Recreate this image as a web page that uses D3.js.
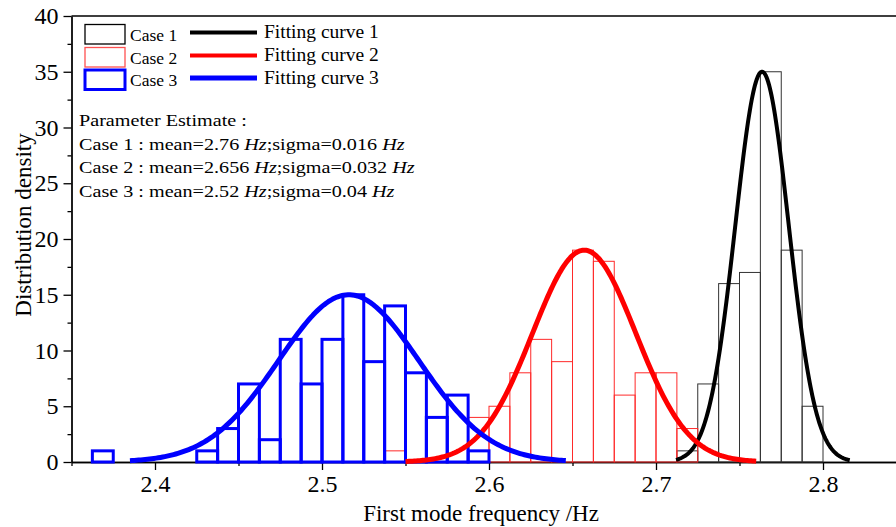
<!DOCTYPE html>
<html lang="en">
<head>
<meta charset="UTF-8">
<title>First mode frequency distribution</title>
<style>
  body { margin: 0; background: #fff; }
  svg { display: block; }
  .axis path, .axis line { stroke: #000; stroke-width: 1.3; }
</style>
</head>
<body>
<div class="g-chart"></div>
<script src="https://d3js.org/d3.v7.min.js"></script>
<script>
// histogram data, bin width 0.0125 Hz
var binWidth = 0.0125;
var case1Start = 2.7125;
var case1Counts = [1, 7, 16, 17, 35, 19, 5];
var case2Start = 2.5375;
var case2Counts = [1, 0, 0, 0, 4, 5, 8, 11, 9, 19, 18, 6, 8, 8, 3];
var case3Start = 2.3625;
var case3Counts = [1, 0, 0, 0, 0, 1, 3, 7, 2, 11, 7, 11, 15, 9, 14, 8, 4, 6, 1];

// fitted normal curves
var fitNames = ["Fitting curve 1", "Fitting curve 2", "Fitting curve 3"];
var fitMean = [2.7635, 2.657, 2.516];
var fitSigma = [0.016, 0.031, 0.042];
var fitPeak = [35, 19, 15];
var fitFrom = [2.712, 2.55, 2.385];
var fitTo = [2.816, 2.76, 2.646];

var caseNames = ["Case 1", "Case 2", "Case 3"];
var paramLines = [
  ["Case 1 : mean=2.76 ", "Hz", ";sigma=0.016 ", "Hz"],
  ["Case 2 : mean=2.656 ", "Hz", ";sigma=0.032 ", "Hz"],
  ["Case 3 : mean=2.52 ", "Hz", ";sigma=0.04 ", "Hz"]
];

var xTicks = [2.4, 2.5, 2.6, 2.7, 2.8];
var xMinor = [2.35, 2.45, 2.55, 2.65, 2.75, 2.85];
var yTicks = [0, 5, 10, 15, 20, 25, 30, 35, 40];
var yMinor = [2.5, 7.5, 12.5, 17.5, 22.5, 27.5, 32.5, 37.5];

var W = 896, H = 527;
var serif = "'Liberation Serif', 'Times New Roman', Times, serif";
var colors = ["#000", "#ff0000", "#0000ff"];
var barStroke = ["#333", "#ff2a2a", "#0000ff"];
var barWidth = [1, 1, 3];
var curveWidth = [4, 5, 5];

var svg = d3.select(".g-chart").append("svg")
    .attr("width", W)
    .attr("height", H)
    .style("font-family", serif);

var x = d3.scaleLinear().domain([2.35, 2.85]).range([71.5, 906.5]);
var y = d3.scaleLinear().domain([0, 40]).range([462, 16]);

// axes
var gx = svg.append("g")
    .attr("class", "axis")
    .attr("transform", "translate(0," + y(0) + ")")
    .call(d3.axisBottom(x).tickValues(xTicks).tickFormat(d3.format(".1f"))
        .tickSize(8).tickSizeOuter(0).tickPadding(5));

svg.append("g")
    .attr("class", "axis")
    .attr("transform", "translate(0," + y(0) + ")")
    .call(d3.axisBottom(x).tickValues(xMinor).tickFormat("").tickSize(4).tickSizeOuter(0));

var gy = svg.append("g")
    .attr("class", "axis")
    .attr("transform", "translate(" + x(2.35) + ",0)")
    .call(d3.axisLeft(y).tickValues(yTicks).tickSize(8).tickSizeOuter(0).tickPadding(5));

svg.append("g")
    .attr("class", "axis")
    .attr("transform", "translate(" + x(2.35) + ",0)")
    .call(d3.axisLeft(y).tickValues(yMinor).tickFormat("").tickSize(4).tickSizeOuter(0));

svg.selectAll(".axis").attr("font-family", serif).attr("font-size", 24);
svg.selectAll(".axis text").style("font-family", serif).style("font-size", "24px").attr("fill", "#000");
svg.selectAll(".axis .domain").attr("stroke-width", 1.5);

// frame top and right
svg.append("path")
    .attr("d", "M" + x(2.35) + "," + y(40) + "H" + x(2.85) + "V" + y(0))
    .attr("fill", "none")
    .attr("stroke", "#000")
    .attr("stroke-width", 1.5);

// histograms
function bins(start, counts) {
  return counts.map(function(c, i) {
    return {x0: start + i * binWidth, x1: start + (i + 1) * binWidth, n: c};
  }).filter(function(d) { return d.n > 0; });
}

var allBins = [bins(case1Start, case1Counts), bins(case2Start, case2Counts), bins(case3Start, case3Counts)];

allBins.forEach(function(data, k) {
  svg.append("g").selectAll("rect")
      .data(data)
      .enter()
      .append("rect")
        .attr("x", function(d) { return x(d.x0); })
        .attr("y", function(d) { return y(d.n); })
        .attr("width", function(d) { return x(d.x1) - x(d.x0); })
        .attr("height", function(d) { return y(0) - y(d.n); })
        .attr("fill", "none")
        .attr("stroke", barStroke[k])
        .attr("stroke-width", barWidth[k]);
});

// fitting curves
var line = d3.line()
    .x(function(d) { return x(d[0]); })
    .y(function(d) { return y(d[1]); });

fitMean.forEach(function(m, k) {
  var pts = d3.range(fitFrom[k], fitTo[k] + 1e-9, (fitTo[k] - fitFrom[k]) / 200).map(function(v) {
    return [v, fitPeak[k] * Math.exp(-Math.pow(v - m, 2) / (2 * fitSigma[k] * fitSigma[k]))];
  });
  svg.append("path")
      .datum(pts)
      .attr("d", line)
      .attr("fill", "none")
      .attr("stroke", colors[k])
      .attr("stroke-width", curveWidth[k])
      .attr("stroke-linejoin", "round");
});

// legend
var legRows = [34, 57, 79.5];
var leg = svg.append("g");
caseNames.forEach(function(name, k) {
  leg.append("rect")
      .attr("x", 85).attr("y", legRows[k] - 9.5)
      .attr("width", 40).attr("height", 19.5)
      .attr("fill", "none")
      .attr("stroke", k == 1 ? "#ff5050" : colors[k])
      .attr("stroke-width", barWidth[k] == 3 ? 3 : 1.3);
  leg.append("text")
      .attr("x", 130).attr("y", legRows[k] + 6.5)
      .style("font-family", serif)
      .style("font-size", "17.5px")
      .text(name);
  leg.append("line")
      .attr("x1", 190).attr("x2", 257)
      .attr("y1", legRows[k] - 1.5).attr("y2", legRows[k] - 1.5)
      .attr("stroke", colors[k])
      .attr("stroke-width", k == 2 ? 5 : 4);
  leg.append("text")
      .attr("x", 264).attr("y", legRows[k] + 4)
      .style("font-family", serif)
      .style("font-size", "19.5px")
      .text(fitNames[k]);
});

// parameter text
var par = svg.append("g").attr("transform", "translate(79,0) scale(1.2,1)");
par.append("text").attr("x", 0).attr("y", 126)
    .style("font-family", serif).style("font-size", "16.8px")
    .text("Parameter Estimate :");
paramLines.forEach(function(parts, i) {
  var t = par.append("text").attr("x", 0).attr("y", 150 + i * 23.4)
      .style("font-family", serif).style("font-size", "16.8px");
  parts.forEach(function(p, j) {
    t.append("tspan").style("font-style", j % 2 ? "italic" : "normal").text(p);
  });
});

// axis titles
svg.append("text")
    .attr("x", 481).attr("y", 521)
    .attr("text-anchor", "middle")
    .style("font-family", serif)
    .style("font-size", "23px")
    .text("First mode frequency /Hz");

svg.append("text")
    .attr("transform", "rotate(-90)")
    .attr("x", -225).attr("y", 31)
    .attr("text-anchor", "middle")
    .style("font-family", serif)
    .style("font-size", "23px")
    .text("Distribution density");
</script>
</body>
</html>
